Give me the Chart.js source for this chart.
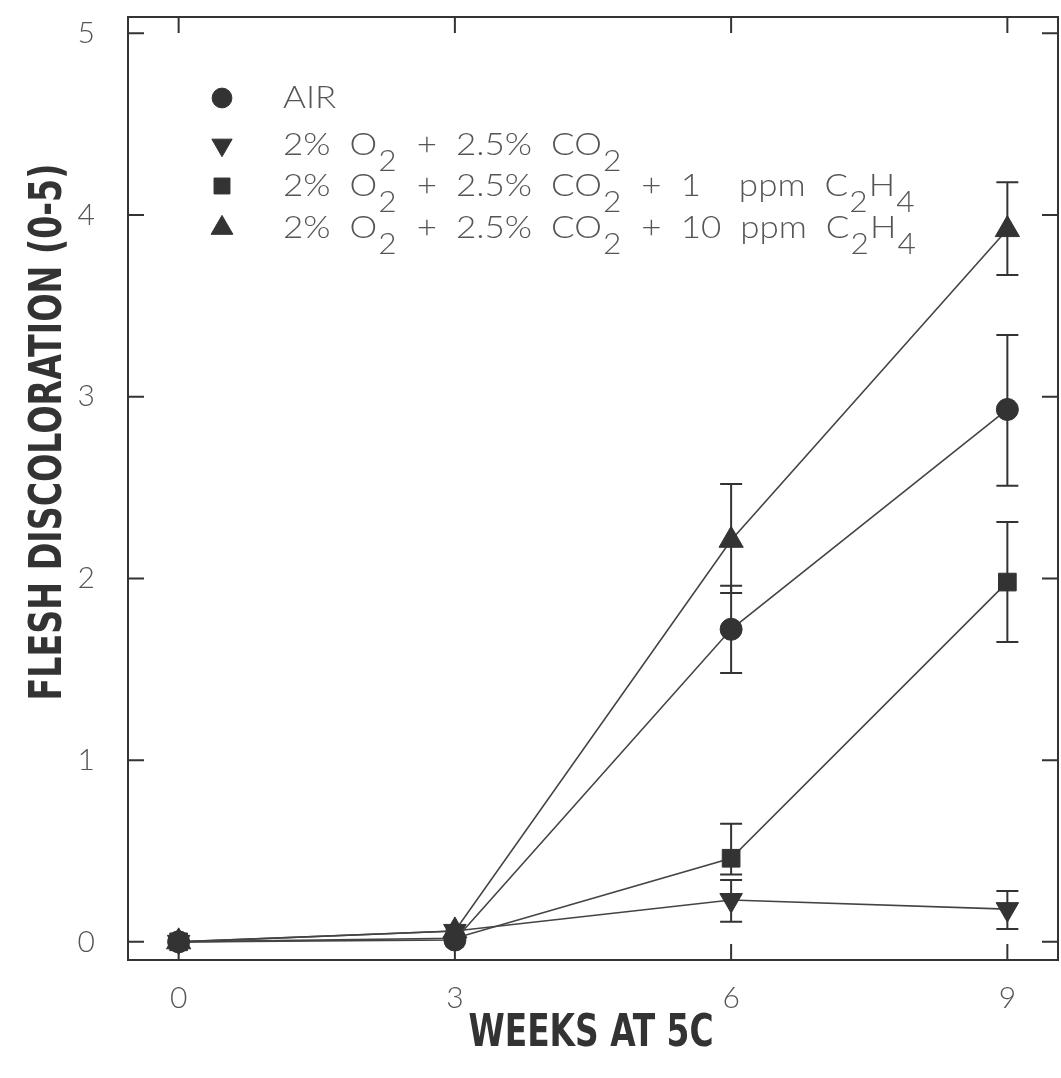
<!DOCTYPE html>
<html><head><meta charset="utf-8">
<script src="https://cdn.jsdelivr.net/npm/chart.js@4.4.0/dist/chart.umd.min.js"></script>
<style>html,body{margin:0;padding:0;background:#fff;overflow:hidden;}#wrap{width:1061px;height:1078px;}canvas{display:block;}</style>
</head><body><div id="wrap"><canvas id="c" width="1061" height="1078"></canvas></div>
<script>
// ---- data ----
const weeks = [0, 3, 6, 9];
const xTickValues = [0, 3, 6, 9];
const yTickValues = [0, 1, 2, 3, 4, 5];
const xTitle = 'WEEKS AT 5C';
const yTitle = 'FLESH DISCOLORATION (0-5)';

const airValues = [0, 0.01, 1.72, 2.93];
const airHigh   = [null, null, 1.96, 3.34];
const airLow    = [null, null, 1.48, 2.51];

const lowO2Values = [0, 0.06, 0.23, 0.18];
const lowO2High   = [null, null, 0.34, 0.28];
const lowO2Low    = [null, null, 0.11, 0.07];

const eth1Values = [0, 0.02, 0.46, 1.98];
const eth1High   = [null, null, 0.65, 2.31];
const eth1Low    = [null, null, 0.37, 1.65];

const eth10Values = [0, 0.06, 2.21, 3.92];
const eth10High   = [null, null, 2.52, 4.18];
const eth10Low    = [null, null, 1.92, 3.67];

// legend text pieces: [text, isSubscript]
const legendAir   = [['AIR', false]];
const legendLowO2 = [['2%  O', false], ['2', true], ['  +  2.5%  CO', false], ['2', true]];
const legendEth1  = [['2%  O', false], ['2', true], ['  +  2.5%  CO', false], ['2', true], ['  +  1    ppm  C', false], ['2', true], ['H', false], ['4', true]];
const legendEth10 = [['2%  O', false], ['2', true], ['  +  2.5%  CO', false], ['2', true], ['  +  10  ppm  C', false], ['2', true], ['H', false], ['4', true]];

// ---- styling ----
const INK = '#333';
const LABEL = '#555';
const thinFont = "'Lato', 'DejaVu Sans', sans-serif";
const boldFont = "'Liberation Sans Narrow', 'DejaVu Sans Condensed', 'Liberation Sans', sans-serif";

function pts(vals) { return weeks.map((w, i) => ({x: w, y: vals[i]})); }

function makeSet(label, vals, hi, lo, style, radius, rotation, legendParts) {
  return {
    label, data: pts(vals), errHigh: hi, errLow: lo, legendParts,
    showLine: true, borderColor: '#444', borderWidth: 1.6,
    pointStyle: style, pointRadius: radius, pointRotation: rotation,
    pointBackgroundColor: INK, pointBorderColor: INK, pointBorderWidth: 1,
    pointHoverRadius: radius
  };
}

const datasets = [
  makeSet('AIR', airValues, airHigh, airLow, 'circle', 11, 0, legendAir),
  makeSet('2% O2 + 2.5% CO2', lowO2Values, lowO2High, lowO2Low, 'triangle', 13, 180, legendLowO2),
  makeSet('2% O2 + 2.5% CO2 + 1 ppm C2H4', eth1Values, eth1High, eth1Low, 'rect', 12.5, 0, legendEth1),
  makeSet('2% O2 + 2.5% CO2 + 10 ppm C2H4', eth10Values, eth10High, eth10Low, 'triangle', 14, 0, legendEth10)
];

const errorBars = {
  id: 'errorBars',
  beforeDatasetsDraw(chart) {
    const {ctx, scales: {x, y}} = chart;
    ctx.save();
    ctx.strokeStyle = INK; ctx.lineWidth = 2;
    chart.data.datasets.forEach(ds => {
      weeks.forEach((w, i) => {
        const hi = ds.errHigh[i], lo = ds.errLow[i];
        if (hi == null || lo == null) return;
        const px = x.getPixelForValue(w);
        const yh = y.getPixelForValue(hi), yl = y.getPixelForValue(lo);
        ctx.beginPath();
        ctx.moveTo(px, yh); ctx.lineTo(px, yl);
        ctx.moveTo(px - 11, yh); ctx.lineTo(px + 11, yh);
        ctx.moveTo(px - 11, yl); ctx.lineTo(px + 11, yl);
        ctx.stroke();
      });
    });
    ctx.restore();
  }
};

function partsWidth(ctx, parts, mainSize, subSize) {
  let w = 0;
  parts.forEach(([t, sub]) => {
    ctx.font = '300 ' + (sub ? subSize : mainSize) + 'px ' + thinFont;
    w += ctx.measureText(t).width + (sub ? 2 : 0);
  });
  return w;
}

const frame = {
  id: 'frame',
  afterDraw(chart) {
    const {ctx, chartArea: a, scales: {x, y}} = chart;
    ctx.save();
    ctx.strokeStyle = INK; ctx.lineWidth = 2;
    ctx.strokeRect(a.left, a.top, a.right - a.left, a.bottom - a.top);
    const tl = 16;
    ctx.beginPath();
    yTickValues.forEach(v => {
      const py = y.getPixelForValue(v);
      ctx.moveTo(a.left, py); ctx.lineTo(a.left + tl, py);
      ctx.moveTo(a.right, py); ctx.lineTo(a.right - tl, py);
    });
    xTickValues.forEach(v => {
      const px = x.getPixelForValue(v);
      ctx.moveTo(px, a.bottom); ctx.lineTo(px, a.bottom - tl);
      ctx.moveTo(px, a.top); ctx.lineTo(px, a.top + tl);
    });
    ctx.stroke();

    // axis titles
    ctx.fillStyle = INK;
    ctx.font = 'bold 44px ' + boldFont;
    ctx.textAlign = 'center'; ctx.textBaseline = 'middle';
    let w = ctx.measureText(xTitle).width;
    ctx.save();
    ctx.translate(591, 1035);
    ctx.scale(245 / w, 1);
    ctx.fillText(xTitle, 0, 0);
    ctx.restore();
    w = ctx.measureText(yTitle).width;
    ctx.save();
    ctx.translate(50, 432);
    ctx.rotate(-Math.PI / 2);
    ctx.scale(537 / w, 1);
    ctx.fillText(yTitle, 0, 0);
    ctx.restore();

    // legend
    const mainSize = 32, subSize = 29;
    const rowsY = [98, 145, 186, 228];
    const natural = partsWidth(ctx, legendEth10, mainSize, subSize);
    const sx = 634 / natural;
    chart.data.datasets.forEach((ds, i) => {
      const cy = rowsY[i];
      ctx.fillStyle = INK; ctx.strokeStyle = INK; ctx.lineWidth = 1;
      Chart.helpers.drawPoint(ctx, {pointStyle: ds.pointStyle, rotation: ds.pointRotation, radius: ds.pointRadius * 0.9, borderWidth: 1}, 222, cy);
      ctx.save();
      ctx.translate(283, cy);
      ctx.scale(sx, 1);
      let tx = 0;
      ctx.textAlign = 'left'; ctx.textBaseline = 'middle';
      ctx.fillStyle = LABEL;
      ds.legendParts.forEach(([t, sub]) => {
        if (sub) {
          ctx.font = '300 ' + subSize + 'px ' + thinFont;
          ctx.fillText(t, tx + 1, 17);
          tx += ctx.measureText(t).width + 2;
        } else {
          ctx.font = '300 ' + mainSize + 'px ' + thinFont;
          ctx.fillText(t, tx, 0);
          tx += ctx.measureText(t).width;
        }
      });
      ctx.restore();
    });
    ctx.restore();
  }
};

new Chart(document.getElementById('c'), {
  type: 'scatter',
  data: {datasets},
  options: {
    responsive: false, animation: false, devicePixelRatio: 1,
    layout: {autoPadding: false, padding: {top: 17, right: 3, left: 0, bottom: 0}},
    plugins: {legend: {display: false}, tooltip: {enabled: false}},
    scales: {
      x: {
        type: 'linear', min: -0.55, max: 9.55,
        afterBuildTicks: s => { s.ticks = xTickValues.map(v => ({value: v})); },
        afterFit: s => { s.height = 118; s.paddingLeft = 0; s.paddingRight = 0; },
        grid: {display: false}, border: {display: false},
        ticks: {color: LABEL, padding: 12, font: {family: thinFont, size: 30, weight: 300}}
      },
      y: {
        min: -0.1, max: 5.09,
        afterBuildTicks: s => { s.ticks = yTickValues.map(v => ({value: v})); },
        afterFit: s => { s.width = 128; s.paddingTop = 0; s.paddingBottom = 0; },
        grid: {display: false}, border: {display: false},
        ticks: {color: LABEL, padding: 25, font: {family: thinFont, size: 30, weight: 300}}
      }
    }
  },
  plugins: [errorBars, frame]
});
</script></body></html>
